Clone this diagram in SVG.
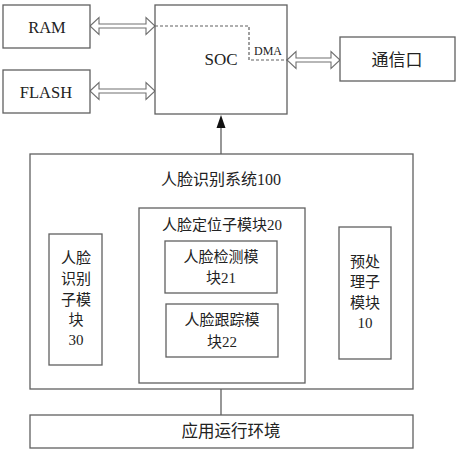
<svg xmlns="http://www.w3.org/2000/svg" width="456" height="450" viewBox="0 0 456 450">
<defs>
<style>
.box{fill:#fff;stroke:#606060;stroke-width:1.3}
.ln{fill:none;stroke:#606060;stroke-width:1.3}
.dash{fill:none;stroke:#606060;stroke-width:1.2;stroke-dasharray:3,2}
.dbl{fill:#fff;stroke:#707070;stroke-width:1.1;stroke-linejoin:miter}
.t{font-family:"Liberation Serif","Noto Sans CJK SC",serif;fill:#222;text-anchor:middle}
</style>
</defs>
<rect width="456" height="450" fill="#fff"/>
<g id="connectors">
<polygon class="dbl" points="90,26 99,17.5 99,24 146,24 146,17.5 155,26 146,34.5 146,28 99,28 99,34.5"/>
<polygon class="dbl" points="90,91 99,82.5 99,89 146,89 146,82.5 155,91 146,99.5 146,93 99,93 99,99.5"/>
<polygon class="dbl" points="287,60 296,51.5 296,58 331,58 331,51.5 340,60 331,68.5 331,62 296,62 296,68.5"/>
<line class="ln" x1="221" y1="154" x2="221" y2="127"/>
<polygon points="221,115 216.5,128 225.5,128" fill="#111"/>
<line class="ln" x1="102" y1="300" x2="139" y2="300"/>
<line class="ln" x1="305" y1="295" x2="339" y2="295"/>
<line class="ln" x1="221" y1="389" x2="221" y2="415"/>
</g>
<g id="ram"><rect class="box" x="3" y="5" width="87" height="43"/><text class="t" x="47" y="33" font-size="16.5">RAM</text></g>
<g id="flash"><rect class="box" x="3" y="70" width="87" height="43"/><text class="t" x="46" y="98" font-size="16.5">FLASH</text></g>
<g id="soc"><rect class="box" x="155" y="5" width="132" height="109"/>
<polyline class="dash" points="155,26 249,26 249,60 287,60"/>
<text class="t" x="268" y="55" font-size="12">DMA</text>
<text class="t" x="221" y="65" font-size="17">SOC</text></g>
<g id="comm"><rect class="box" x="340" y="37" width="115" height="44"/><text class="t" x="397" y="66" font-size="17">通信口</text></g>
<g id="system"><rect class="box" x="30" y="154" width="383" height="235"/><text class="t" x="221" y="185" font-size="16">人脸识别系统100</text></g>
<g id="locate"><rect class="box" x="139" y="208" width="166" height="175"/><text class="t" x="222" y="230" font-size="15">人脸定位子模块20</text></g>
<g id="detect"><rect class="box" x="165" y="241" width="112" height="52"/><text class="t" x="221" y="262" font-size="15">人脸检测模</text><text class="t" x="221" y="283" font-size="15">块21</text></g>
<g id="track"><rect class="box" x="166" y="304" width="112" height="53"/><text class="t" x="222" y="325" font-size="15">人脸跟踪模</text><text class="t" x="222" y="347" font-size="15">块22</text></g>
<g id="recog"><rect class="box" x="49" y="234" width="53" height="131"/>
<text class="t" x="76" y="263" font-size="15">人脸</text><text class="t" x="76" y="284" font-size="15">识别</text><text class="t" x="76" y="305" font-size="15">子模</text><text class="t" x="76" y="325" font-size="15">块</text><text class="t" x="76" y="345" font-size="15">30</text></g>
<g id="pre"><rect class="box" x="339" y="227" width="52" height="132"/>
<text class="t" x="365" y="267" font-size="15">预处</text><text class="t" x="365" y="287" font-size="15">理子</text><text class="t" x="365" y="308" font-size="15">模块</text><text class="t" x="365" y="328" font-size="15">10</text></g>
<g id="env"><rect class="box" x="30" y="415" width="383" height="33"/><text class="t" x="231" y="437" font-size="16.5">应用运行环境</text></g>
</svg>
